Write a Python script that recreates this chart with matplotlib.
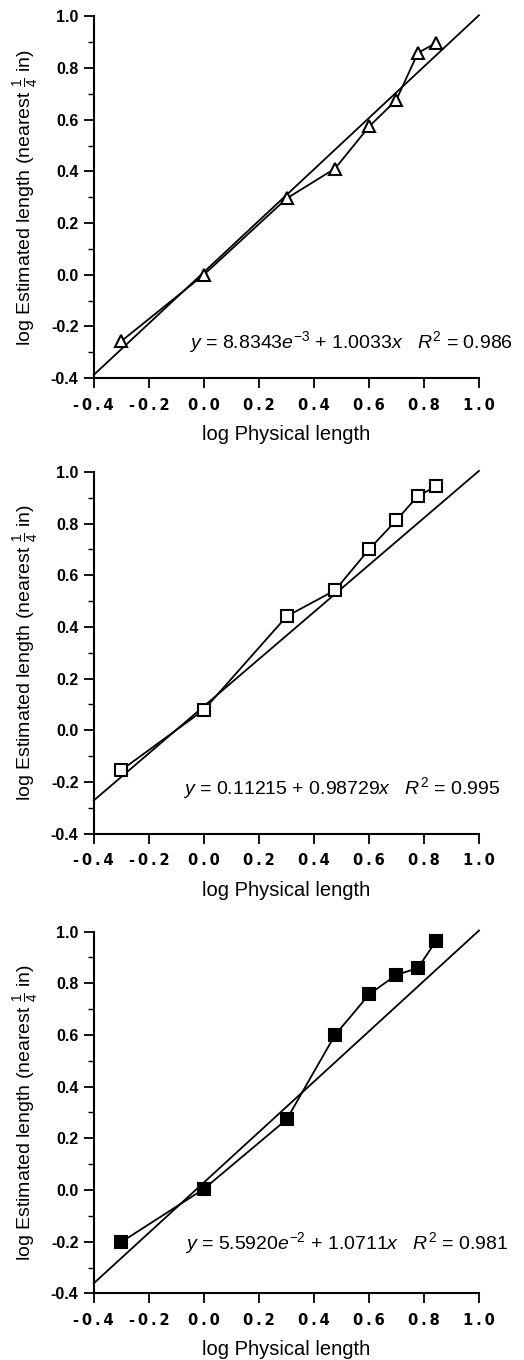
import matplotlib
matplotlib.use('Agg')
import matplotlib.pyplot as plt
import numpy as np

plt.rcParams['font.family'] = ['Liberation Sans', 'DejaVu Sans']
plt.rcParams['mathtext.fontset'] = 'custom'
plt.rcParams['mathtext.rm'] = 'Liberation Sans'
plt.rcParams['mathtext.it'] = 'Liberation Sans:italic'
plt.rcParams['mathtext.bf'] = 'Liberation Sans:bold'

# log physical length (same for all three panels)
log_phys = [-0.301, 0.0, 0.301, 0.477, 0.602, 0.699, 0.778, 0.845]

# log estimated length, one list per panel
est_tri = [-0.258, 0.0, 0.295, 0.411, 0.575, 0.675, 0.858, 0.898]
est_open_sq = [-0.155, 0.079, 0.441, 0.542, 0.702, 0.812, 0.907, 0.944]
est_fill_sq = [-0.202, 0.004, 0.273, 0.600, 0.758, 0.832, 0.859, 0.965]

# regression lines as drawn (intercept, slope)
fit_lines = [(0.010, 0.994), (0.093, 0.911), (0.029, 0.975)]

eq_texts = [
    r'$y$ = 8.8343$e^{-3}$ + 1.0033$x$   $R^2$ = 0.986',
    r'$y$ = 0.11215 + 0.98729$x$   $R^2$ = 0.995',
    r'$y$ = 5.5920$e^{-2}$ + 1.0711$x$   $R^2$ = 0.981',
]

xticks = [-0.4, -0.2, 0.0, 0.2, 0.4, 0.6, 0.8, 1.0]
yticks = [-0.4, -0.2, 0.0, 0.2, 0.4, 0.6, 0.8, 1.0]

fig = plt.figure(figsize=(5.24, 13.6), dpi=100)

panels = [
    (est_tri, '^', 'white', 0.722),
    (est_open_sq, 's', 'white', 0.387),
    (est_fill_sq, 's', 'black', 0.049),
]
eq_pos = [(0.247, 0.10), (0.232, 0.126), (0.236, 0.139)]

for i, (yvals, mk, fc, bot) in enumerate(panels):
    ax = fig.add_axes([0.179, bot, 0.735, 0.266])
    b, m = fit_lines[i]
    xl = np.array([-0.4, 1.0])
    ax.plot(xl, b + m * xl, 'k-', lw=1.3, clip_on=False)
    ax.plot(log_phys, yvals, 'k-', lw=1.3, marker=mk, markersize=8.5,
            markerfacecolor=fc, markeredgecolor='k', markeredgewidth=1.5,
            clip_on=False, zorder=3)
    ax.set_xlim(-0.4, 1.0)
    ax.set_ylim(-0.4, 1.0)
    ax.spines['top'].set_visible(False)
    ax.spines['right'].set_visible(False)
    ax.spines['left'].set_linewidth(1.5)
    ax.spines['bottom'].set_linewidth(1.5)
    ax.set_xticks(xticks)
    # wide, letter-spaced tick labels like "- 0 . 4"
    ax.set_xticklabels(['\u2009'.join('%.1f' % v) for v in xticks],
                       fontweight='bold', fontsize=10.5, family='DejaVu Sans')
    ax.set_yticks(yticks)
    ax.set_yticklabels(['%.1f' % v for v in yticks], fontweight='bold', fontsize=11.5)
    ax.set_yticks(np.arange(-0.3, 1.0, 0.2), minor=True)
    ax.tick_params(axis='both', which='major', direction='out', length=7, width=1.3)
    ax.tick_params(axis='y', which='minor', direction='out', length=4, width=1.0)
    ax.tick_params(axis='x', pad=7)
    ax.tick_params(axis='y', pad=4)
    ax.set_xlabel('log Physical length', fontsize=14.5, labelpad=9)
    ax.set_ylabel(r'log Estimated length (nearest $\frac{1}{4}$ in)', fontsize=14,
                  labelpad=7)
    ax.text(eq_pos[i][0], eq_pos[i][1], eq_texts[i], transform=ax.transAxes,
            ha='left', va='center', fontsize=14, clip_on=False)

fig.savefig('out.png', dpi=100)
